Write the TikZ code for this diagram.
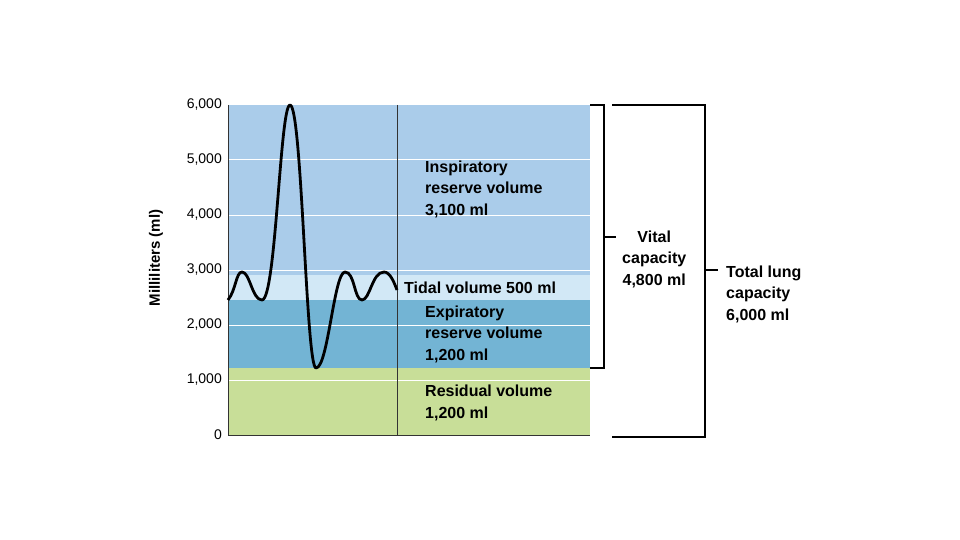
\documentclass[tikz,border=0pt]{standalone}
\usepackage{fontspec}
\setmainfont{Liberation Sans}
\begin{document}
\begin{tikzpicture}[x=1pt,y=-1pt,
  lbl/.style={font=\fontsize{16}{21.5}\selectfont\bfseries,align=left,anchor=west,inner sep=0},
  tick/.style={font=\fontsize{14}{16}\selectfont,anchor=east,inner sep=0},
  br/.style={line width=1.3pt}]
\useasboundingbox (0,0) rectangle (960,540);
\definecolor{irv}{RGB}{170,204,234}
\definecolor{tv}{RGB}{210,232,246}
\definecolor{erv}{RGB}{115,180,212}
\definecolor{rv}{RGB}{200,222,152}
\fill[irv] (228,105) rectangle (590,275);
\fill[tv] (228,275) rectangle (590,300);
\fill[erv] (228,300) rectangle (590,368);
\fill[rv] (228,368) rectangle (590,435);
\foreach \y in {160,215,270,325,380} \draw[white,line width=1pt] (228,\y) -- (590,\y);
\draw[black!80,line width=0.8pt] (228,105) -- (228,435) -- (590,435);
\draw[black!80,line width=0.8pt] (397,105) -- (397,435);
\draw[line width=2.8pt,line join=round]
 (228,300) .. controls (236,290) and (236,272) .. (242,272)
 .. controls (250,272) and (252,300) .. (262,300)
 .. controls (276,300) and (280,105) .. (290,105)
 .. controls (302,105) and (306,368) .. (316,368)
 .. controls (328,368) and (334,272) .. (345,272)
 .. controls (355,272) and (354,300) .. (362,300)
 .. controls (370,300) and (372,272) .. (384,272)
 .. controls (390,272) and (394,282) .. (397,290);
\foreach \y/\t in {105/{6,000},160/{5,000},215/{4,000},270/{3,000},325/{2,000},380/{1,000},435/0}
  \node[tick] at (222,\y) {\t};
\node[rotate=90,font=\fontsize{15}{16}\selectfont\bfseries] (ax) at (156,258) {Milliliters (ml)};
\node[lbl] (irvl) at (425,189) {Inspiratory\\reserve volume\\3,100 ml};
\node[lbl] (tvl) at (404,288) {Tidal volume 500 ml};
\node[lbl] (ervl) at (425,334) {Expiratory\\reserve volume\\1,200 ml};
\node[lbl] (rvl) at (425,403) {Residual volume\\1,200 ml};
\draw[br] (590,105) -- (604,105) -- (604,368) -- (590,368);
\coordinate (vc) at (604,237);
\node[lbl,align=center,anchor=west] (vcl) at (622,259) {Vital\\capacity\\4,800 ml};
\draw[br] (vc) -- (616,237);
\draw[br] (612,105) -- (705,105) -- (705,437) -- (612,437);
\draw[br] (705,270) -- (718,270);
\node[lbl,align=left,anchor=west] (tlc) at (726,294) {Total lung\\capacity\\6,000 ml};
\end{tikzpicture}
\end{document}
